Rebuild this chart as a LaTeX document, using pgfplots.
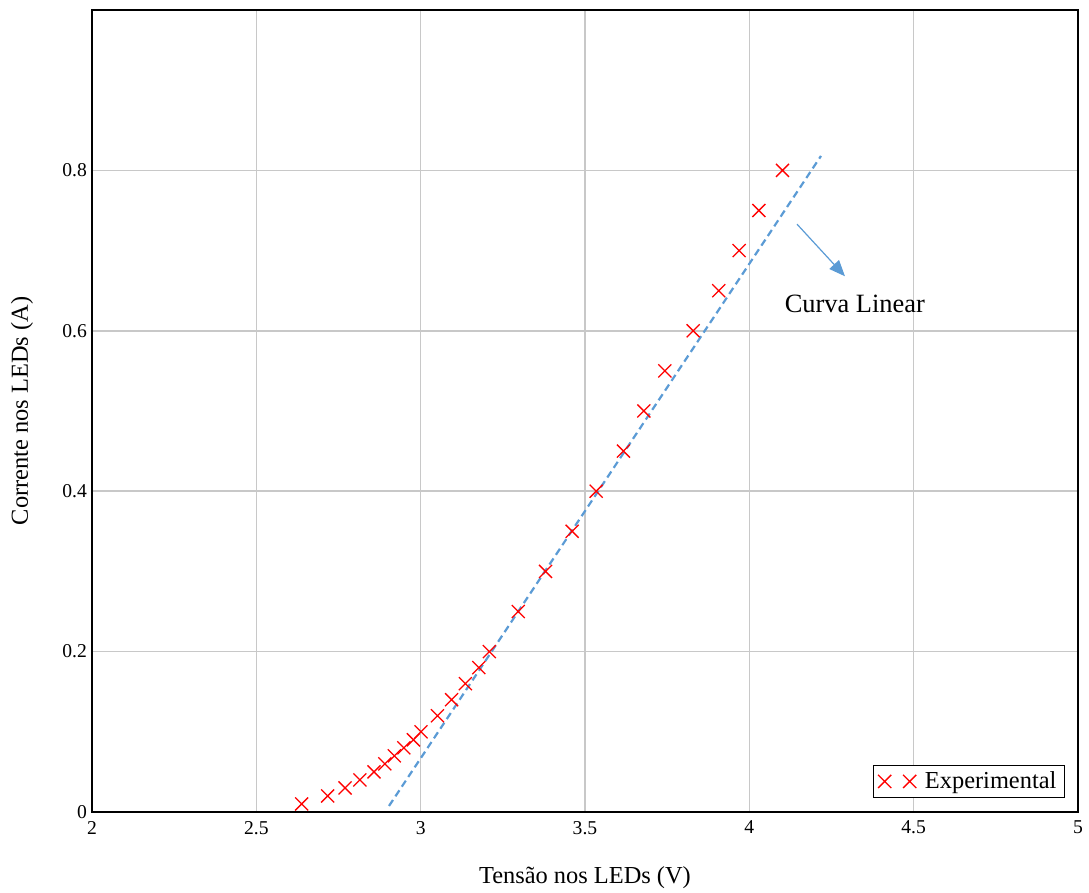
\documentclass[border=0pt]{standalone}
\usepackage{fontspec}
\setmainfont{Liberation Serif}
\usepackage{pgfplots}
\pgfplotsset{compat=1.18}
\usetikzlibrary{arrows.meta}
\definecolor{lineblue}{RGB}{91,155,213}
\definecolor{gridgray}{RGB}{200,200,200}
\begin{document}
\begin{tikzpicture}
\path[use as bounding box] (-46pt,-40.5pt) rectangle (498.5pt,406pt);
\begin{axis}[
  at={(0,0)}, anchor=south west,
  scale only axis, width=493pt, height=401pt,
  xmin=2, xmax=5, ymin=0, ymax=1.0,
  xtick={2,2.5,3,3.5,4,4.5,5},
  ytick={0,0.2,0.4,0.6,0.8},
  xticklabels={2,2.5,3,3.5,4,4.5,5},
  yticklabels={0,0.2,0.4,0.6,0.8},
  major tick length=0pt,
  grid=major,
  major grid style={gridgray, line width=0.8pt},
  axis line style={black, line width=0.9pt},
  tick label style={font=\fontsize{9.8}{11}\selectfont},
  yticklabel style={xshift=1pt},
  xticklabel style={yshift=-1pt},
  xlabel={Tensão nos LEDs (V)},
  ylabel={Corrente nos LEDs (A)},
  label style={font=\fontsize{12.2}{14}\selectfont},
  xlabel style={at={(axis description cs:0.5,-0.0823)}, anchor=center},
  ylabel style={at={(axis description cs:-0.071,0.5)}, anchor=center, rotate=0},
  legend style={at={(rel axis cs:1,0)}, anchor=south east, xshift=-6.5pt, yshift=7pt,
    draw=black, line width=0.6pt, font=\fontsize{12.2}{14}\selectfont,
    inner xsep=2pt, inner ysep=1pt, row sep=0pt},
  legend cell align=left,
  legend image code/.code={
    \draw[red, line width=0.65pt] (-3.3pt,-3.3pt)--(3.3pt,3.3pt) (-3.3pt,3.3pt)--(3.3pt,-3.3pt)
      (9.2pt,-3.3pt)--(15.8pt,3.3pt) (9.2pt,3.3pt)--(15.8pt,-3.3pt);
  },
]
\addplot[red, only marks, mark=x, mark size=4.6pt, mark options={line width=0.65pt}] coordinates {
(2.638,0.01) (2.717,0.02) (2.770,0.03) (2.815,0.04) (2.858,0.05)
(2.891,0.06) (2.920,0.07) (2.949,0.08) (2.978,0.09) (3.001,0.10)
(3.051,0.12) (3.094,0.14) (3.136,0.16) (3.177,0.18) (3.209,0.20)
(3.297,0.25) (3.380,0.30) (3.461,0.35) (3.534,0.40) (3.617,0.45)
(3.679,0.50) (3.743,0.55) (3.829,0.60) (3.907,0.65) (3.969,0.70)
(4.029,0.75) (4.101,0.80)
};
\addlegendentry{\hspace{2pt}Experimental}
\addplot[lineblue, line width=1.1pt, dash pattern=on 3.6pt off 2.2pt, forget plot] coordinates {
(2.9036,0.0075) (4.218,0.818)
};
\draw[lineblue, line width=0.6pt, -{Triangle[length=8pt, width=6.5pt]}] (axis cs:4.145,0.733) -- (axis cs:4.291,0.668);
\node[font=\fontsize{13.2}{15}\selectfont] at (axis cs:4.321,0.633) {Curva Linear};
\end{axis}
\end{tikzpicture}
\end{document}
